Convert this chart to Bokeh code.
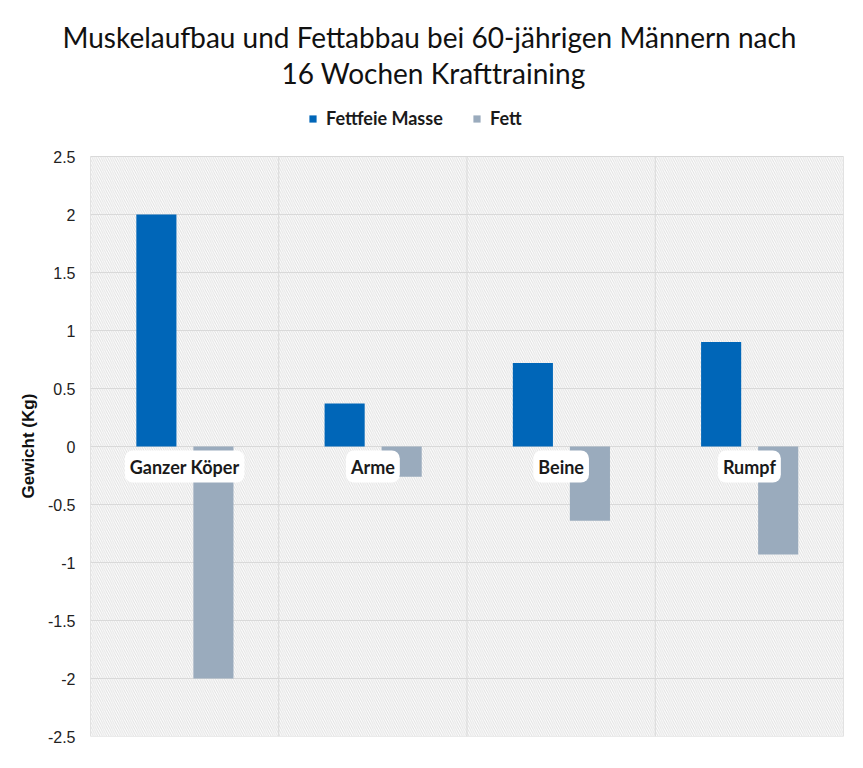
from bokeh.plotting import figure
from bokeh.models import (Range1d, FixedTicker, Legend, LegendItem, Title,
                          ColumnDataSource, CustomJSTickFormatter)
from bokeh.transform import dodge
from bokeh.core.properties import value
from bokeh.embed import file_html
from bokeh.resources import INLINE

# ---- data ----
title_lines = ["Muskelaufbau und Fettabbau bei 60-jährigen Männern nach",
               "16 Wochen Krafttraining"]
categories = ["Ganzer Köper", "Arme", "Beine", "Rumpf"]
series_names = ["Fettfeie Masse", "Fett"]
lean_mass = [2.0, 0.37, 0.72, 0.90]
fat_mass = [-2.0, -0.26, -0.64, -0.93]
y_ticks = [-2.5, -2, -1.5, -1, -0.5, 0, 0.5, 1, 1.5, 2, 2.5]
y_label = "Gewicht (Kg)"
colors = ["#0066b8", "#9aabbd"]
grid_color = "#d9d9d9"

# layout constants (pixels / range padding for the legend strip)
legend_strip = 68 / 116.0

n = len(categories)
positions = [i + 0.5 for i in range(n)]
bounds = list(range(n + 1))
src = ColumnDataSource(dict(x=positions, cat=categories, lean=lean_mass,
                            fat=fat_mass, zero=[0] * n))

p = figure(width=855, height=760,
           x_range=Range1d(0, n),
           y_range=Range1d(y_ticks[0], y_ticks[-1] + legend_strip),
           output_backend="svg", toolbar_location=None,
           min_border_left=90, min_border_right=12, min_border_bottom=24,
           min_border_top=88,
           background_fill_color="white", border_fill_color="white",
           outline_line_color=None)

# hatched plot background with light border
bg = p.quad(left=[bounds[0]], right=[bounds[-1]], bottom=[y_ticks[0]],
            top=[y_ticks[-1]], fill_color="white", line_color=grid_color,
            hatch_pattern="\\", hatch_color="#e0e0e0", hatch_scale=4.5,
            hatch_weight=1)
bg.level = "image"

# vertical separators between categories
vs = p.segment(x0=bounds, x1=bounds, y0=[y_ticks[0]] * len(bounds),
               y1=[y_ticks[-1]] * len(bounds), line_color=grid_color,
               line_width=1)
vs.level = "underlay"

r_lean = p.vbar(x=dodge("x", -0.15), top="lean", bottom=0, width=0.213,
                fill_color=colors[0], line_color=None, source=src)
r_fat = p.vbar(x=dodge("x", 0.153), top=0, bottom="fat", width=0.213,
               fill_color=colors[1], line_color=None, source=src)

p.text(x="x", y="zero", text="cat", source=src,
       text_font=value("Lato"), text_font_style="bold", text_font_size="18px",
       text_color="#1a1a1a", text_align="center", text_baseline="middle",
       y_offset=20, background_fill_color="white", padding=5,
       border_radius=8)

# grid / axes
p.xaxis.visible = False
p.xgrid.visible = False
p.ygrid.ticker = FixedTicker(ticks=y_ticks)
p.ygrid.grid_line_color = grid_color

p.yaxis.ticker = FixedTicker(ticks=y_ticks)
p.yaxis.formatter = CustomJSTickFormatter(code="return tick.toString();")
p.yaxis.axis_line_color = None
p.yaxis.major_tick_line_color = None
p.yaxis.minor_tick_line_color = None
p.yaxis.major_label_standoff = 9
p.yaxis.major_label_text_font = "Liberation Sans"
p.yaxis.major_label_text_font_size = "16px"
p.yaxis.major_label_text_color = "#222222"

p.add_layout(Title(text=y_label, align="left", offset=238,
                   text_font="Liberation Sans", text_font_style="bold",
                   text_font_size="17px", text_color="#111111",
                   standoff=14), "left")

legend = Legend(items=[LegendItem(label=series_names[0], renderers=[r_lean]),
                       LegendItem(label=series_names[1], renderers=[r_fat])],
                orientation="horizontal", location=(213, 601),
                label_text_font="Lato", label_text_font_style="bold",
                label_text_font_size="18px", label_text_color="#1a1a1a",
                glyph_width=9, glyph_height=9, spacing=11, label_standoff=9,
                label_width=135, label_height=24, padding=5, margin=0,
                border_line_alpha=0, background_fill_alpha=0)
p.add_layout(legend)

title_offsets = [-28, 191]
title_standoffs = [1, -2]
for line, off, so in reversed(list(zip(title_lines, title_offsets, title_standoffs))):
    p.add_layout(Title(text=line, align="left", offset=off, text_font="Lato",
                       text_font_style="normal", text_font_size="28px",
                       text_color="#111111", standoff=so), "above")

open("out.html", "w").write(file_html(p, INLINE))
